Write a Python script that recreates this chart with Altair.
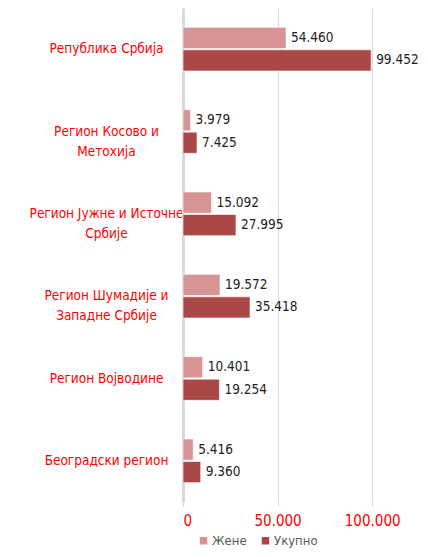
import altair as alt
import pandas as pd

regions = [
    "Република Србија",
    "Регион Косово и\nМетохија",
    "Регион Јужне и Источне\nСрбије",
    "Регион Шумадије и\nЗападне  Србије",
    "Регион Војводине",
    "Београдски регион",
]
series = ["Жене", "Укупно"]
zene = [54460, 3979, 15092, 19572, 10401, 5416]
ukupno = [99452, 7425, 27995, 35418, 19254, 9360]
x_ticks = [0, 50000, 100000]
colors = ["#D69494", "#AA4848"]

rows = []
for r, z, u in zip(regions, zene, ukupno):
    for s, v in zip(series, [z, u]):
        rows.append({"region": r, "series": s, "value": v,
                     "label": f"{v:,}".replace(",", ".")})
df = pd.DataFrame(rows)

FONT = "Liberation Sans Narrow, DejaVu Sans Condensed, sans-serif"

y_enc = alt.Y(
    "region:N", sort=regions, title=None,
    scale=alt.Scale(paddingInner=0.47, paddingOuter=0.235),
    axis=alt.Axis(
        labelExpr="split(datum.label, '\\n')",
        labelAlign="center", labelBaseline="middle",
        labelPadding=77, ticks=False, tickSize=0,
        labelColor="#FF0000", labelFont=FONT, labelFontSize=13.5,
        labelLineHeight=20, labelLimit=200,
        domainColor="#D9D9D9", domainWidth=3,
        minExtent=175, maxExtent=175, grid=False,
    ),
)
yoff = alt.YOffset("series:N", sort=series,
                   scale=alt.Scale(paddingInner=0.06))
x_enc = alt.X(
    "value:Q", title=None,
    scale=alt.Scale(domain=[0, 120000], nice=False),
    axis=alt.Axis(
        values=x_ticks,
        labelExpr="replace(format(datum.value, ','), ',', '.')",
        labelColor="#FF0000", labelFont=FONT, labelFontSize=15,
        labelPadding=7, domain=False, tickColor="#D9D9D9", tickSize=4,
        gridColor="#D9D9D9", gridWidth=1,
    ),
)

bars = alt.Chart(df).mark_bar(stroke="white", strokeWidth=1, strokeOpacity=0.6).encode(
    x=x_enc, y=y_enc, yOffset=yoff,
    color=alt.Color(
        "series:N", sort=series,
        scale=alt.Scale(domain=series, range=colors),
        legend=alt.Legend(
            title=None, orient="none", direction="horizontal",
            legendX=14, legendY=526, symbolType="square", symbolSize=56,
            symbolStrokeWidth=0, labelFont=FONT, labelFontSize=13,
            labelColor="#595959", labelOffset=2, columnPadding=12,
        ),
    ),
)

text = alt.Chart(df).mark_text(
    align="left", baseline="middle", dx=5, font=FONT, fontSize=13.5,
    color="#222222",
).encode(
    x="value:Q", y=alt.Y("region:N", sort=regions), yOffset=yoff,
    text="label:N",
)

chart = (bars + text).properties(
    width=227, height=494, padding=0,
).configure_view(stroke=None)

chart.save("out.html", embed_options={"renderer": "svg", "actions": False})
